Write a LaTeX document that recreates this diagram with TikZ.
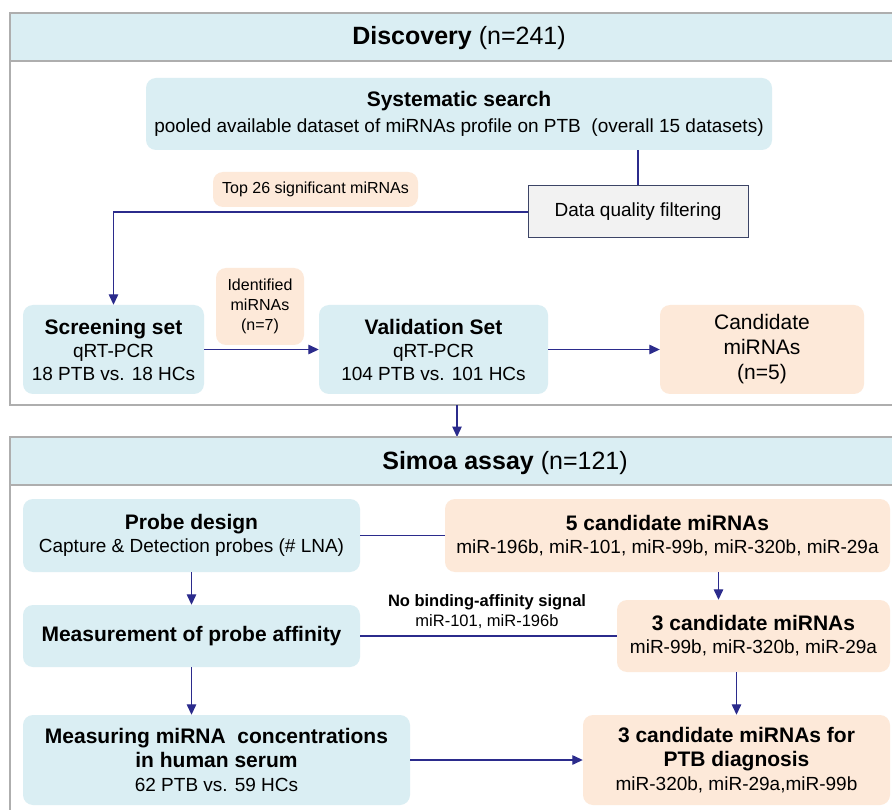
\documentclass[tikz,border=0pt]{standalone}
\usepackage{fontspec}
\setmainfont{Liberation Sans}
\usetikzlibrary{arrows.meta,calc}
\definecolor{lblue}{HTML}{DAEEF3}
\definecolor{peach}{HTML}{FDE9D9}
\definecolor{navy}{HTML}{2B2B8C}
\definecolor{pgray}{HTML}{AEAEAE}
\definecolor{dqfill}{HTML}{F2F2F2}
\definecolor{dqline}{HTML}{3C4466}
\newcommand{\fs}[2]{\fontsize{#1}{#2}\selectfont}
\begin{document}
\begin{tikzpicture}[x=1pt,y=-1pt,
  bbox/.style={rounded corners=10pt, fill=lblue, draw=none, align=center, inner sep=0pt},
  pbox/.style={rounded corners=10pt, fill=peach, draw=none, align=center, inner sep=0pt},
  arr/.style={draw=navy, line width=1.3pt, -{Triangle[length=10.5pt,width=9.5pt]}},
  conn/.style={draw=navy, line width=1.3pt},
  panel/.style={draw=pgray, line width=2pt},
  title/.style={font=\fs{25}{29}, inner sep=0pt},
]
\useasboundingbox (0,0) rectangle (892,810);
\clip (0,0) rectangle (892,810);
\fill[white] (0,0) rectangle (892,810);

% ---------- Discovery panel ----------
\fill[lblue] (10,13) rectangle (900,61);
\draw[panel] (900,13) -- (10,13) -- (10,405) -- (900,405);
\draw[panel] (10,61) -- (900,61);
\node[title] (dtitle) at (459,38) {{\bfseries Discovery} (n=241)};

\node[bbox, minimum width=626pt, minimum height=72pt, font=\fs{19}{26}] (sys) at (459,114)
  {{\fs{21}{26}\bfseries Systematic search}\\pooled available dataset of miRNAs profile on PTB\ \ (overall 15 datasets)};

\node[draw=dqline, fill=dqfill, line width=1pt, minimum width=220pt, minimum height=52pt,
  inner sep=0pt, font=\fs{19}{23}] (dq) at (638,212) {Data quality filtering};

\node[pbox, minimum width=205pt, minimum height=35pt, font=\fs{16}{19}] (top26) at (315.5,189.5)
  {Top 26 significant miRNAs};

\node[bbox, minimum width=181pt, minimum height=89pt, font=\fs{19}{23}] (scr) at (113.5,349.5)
  {{\fs{21}{23}\bfseries Screening set}\\qRT-PCR\\18 PTB vs. 18 HCs};

\node[pbox, minimum width=88pt, minimum height=77pt, font=\fs{16}{20}] (ident) at (260,306.5)
  {Identified\\miRNAs\\(n=7)};

\node[bbox, minimum width=229pt, minimum height=89pt, font=\fs{19}{23}] (val) at (433.5,349.5)
  {{\fs{21}{23}\bfseries Validation Set}\\qRT-PCR\\104 PTB vs. 101 HCs};

\node[pbox, minimum width=204pt, minimum height=89pt, font=\fs{21}{25}] (cand) at (762,349.5)
  {Candidate\\miRNAs\\(n=5)};

\draw[conn] (sys.south -| dq.north) -- (dq.north);
\draw[arr] (dq.west) -| (scr.north);
\draw[arr] (scr.east) -- (val.west);
\draw[arr] (val.east) -- (cand.west);

% ---------- link between panels ----------
\coordinate (dbot) at (457,405);
\coordinate (stop) at (457,437);
\draw[arr] (dbot) -- (stop);

% ---------- Simoa panel ----------
\fill[lblue] (10,437) rectangle (900,485);
\draw[panel] (900,437) -- (10,437) -- (10,820);
\draw[panel] (10,485) -- (900,485);
\node[title] (stitle) at (505,463) {{\bfseries Simoa assay} (n=121)};

\node[bbox, minimum width=337pt, minimum height=73pt, font=\fs{19}{23}] (probe) at (191.5,535.5)
  {{\fs{21}{23}\bfseries Probe design}\\Capture \& Detection probes (\# LNA)};

\node[pbox, minimum width=445pt, minimum height=73pt, font=\fs{19}{23}] (five) at (667.5,535.5)
  {{\fs{21}{23}\bfseries 5 candidate miRNAs}\\miR-196b, miR-101, miR-99b, miR-320b, miR-29a};

\node[bbox, minimum width=337pt, minimum height=62pt, font=\fs{21}{23}\bfseries] (meas) at (191.5,636)
  {Measurement of probe affinity};

\node[pbox, minimum width=273pt, minimum height=72pt, font=\fs{19}{23}] (three) at (753.5,636)
  {{\fs{21}{23}\bfseries 3 candidate miRNAs}\\miR-99b, miR-320b, miR-29a};

\node[font=\fs{16.5}{20}, align=center, inner sep=0pt] (nobind) at (487,612)
  {{\bfseries No binding-affinity signal}\\miR-101, miR-196b};

\node[bbox, minimum width=387pt, minimum height=90pt, font=\fs{19}{24}] (serum) at (216.5,760)
  {{\fs{21}{24}\bfseries Measuring miRNA\ \ concentrations}\\{\fs{21}{24}\bfseries in human serum}\\62 PTB vs. 59 HCs};

\node[pbox, minimum width=307pt, minimum height=90pt, font=\fs{19}{24}] (ptb) at (736.5,760)
  {{\fs{21}{24}\bfseries 3 candidate miRNAs for}\\{\fs{21}{24}\bfseries PTB diagnosis}\\miR-320b, miR-29a,miR-99b};

\draw[conn] (probe.east) -- (five.west);
\draw[arr] (probe.south) -- (meas.north);
\draw[arr] ([xshift=51pt]five.south) -- ([xshift=51pt]five.south |- three.north);
\draw[conn] (meas.east) -- (three.west);
\draw[arr] (meas.south) -- (serum.north -| meas.south);
\draw[arr] (three.south -| ptb.north) -- (ptb.north);
\draw[arr] (serum.east) -- (ptb.west);
\end{tikzpicture}
\end{document}
